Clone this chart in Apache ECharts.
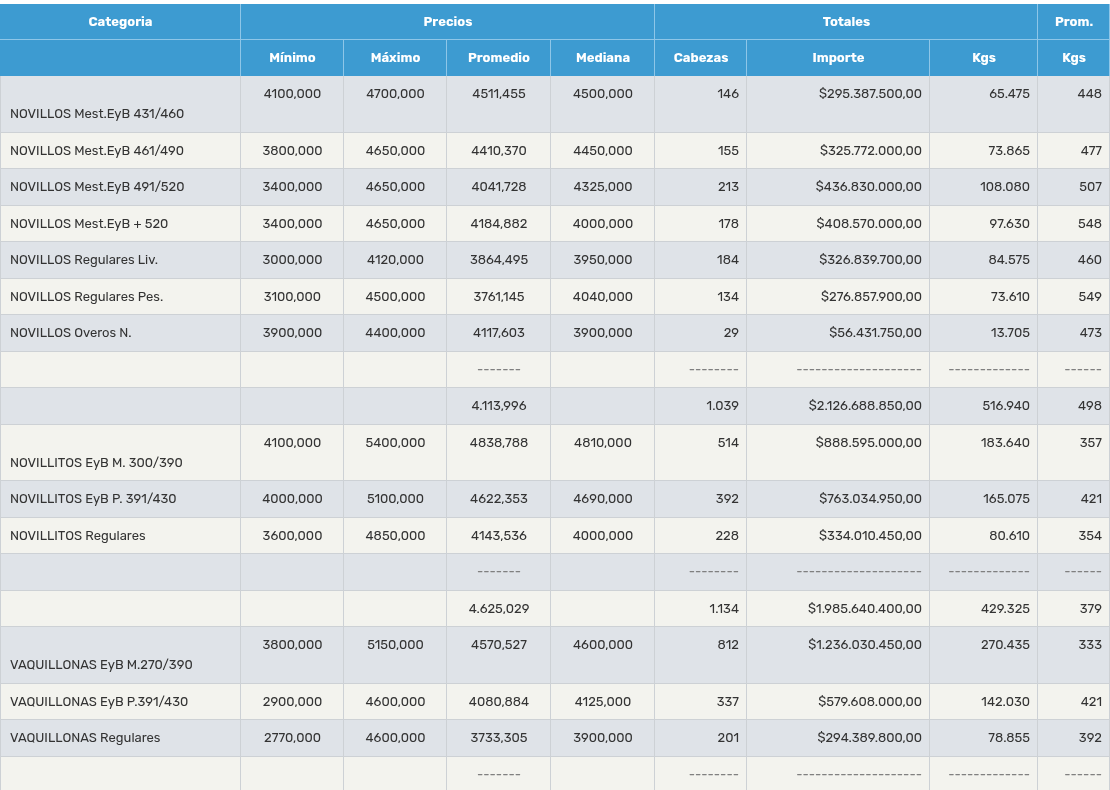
<!DOCTYPE html>
<html><head><meta charset="utf-8">
<script src="https://cdn.jsdelivr.net/npm/echarts@6/dist/echarts.min.js"></script>
<style>html,body{margin:0;padding:0;background:#fff}#c{width:1110px;height:790px}</style>
</head><body><div id="c"></div>
<script>
// ---------- DATA ----------
const headerGroups = ['Categoria', 'Precios', 'Totales', 'Prom.'];
const headerGroupSpan = [[0, 0], [1, 4], [5, 7], [8, 8]];
const headerColumns = ['', 'Mínimo', 'Máximo', 'Promedio', 'Mediana', 'Cabezas', 'Importe', 'Kgs', 'Kgs'];

const categories = [
  'NOVILLOS Mest.EyB 431/460', 'NOVILLOS Mest.EyB 461/490', 'NOVILLOS Mest.EyB 491/520',
  'NOVILLOS Mest.EyB + 520', 'NOVILLOS Regulares Liv.', 'NOVILLOS Regulares Pes.',
  'NOVILLOS Overos N.', '', '',
  'NOVILLITOS EyB M. 300/390', 'NOVILLITOS EyB P. 391/430', 'NOVILLITOS Regulares', '', '',
  'VAQUILLONAS EyB M.270/390', 'VAQUILLONAS EyB P.391/430', 'VAQUILLONAS Regulares', ''
];
const rowKind = ['item','item','item','item','item','item','item','dash','total',
  'item','item','item','dash','total','item','item','item','dash'];

const minimo   = [4100, 3800, 3400, 3400, 3000, 3100, 3900, null, null, 4100, 4000, 3600, null, null, 3800, 2900, 2770, null];
const maximo   = [4700, 4650, 4650, 4650, 4120, 4500, 4400, null, null, 5400, 5100, 4850, null, null, 5150, 4600, 4600, null];
const promedio = [4511.455, 4410.370, 4041.728, 4184.882, 3864.495, 3761.145, 4117.603, null, 4113.996,
  4838.788, 4622.353, 4143.536, null, 4625.029, 4570.527, 4080.884, 3733.305, null];
const mediana  = [4500, 4450, 4325, 4000, 3950, 4040, 3900, null, null, 4810, 4690, 4000, null, null, 4600, 4125, 3900, null];
const cabezas  = [146, 155, 213, 178, 184, 134, 29, null, 1039, 514, 392, 228, null, 1134, 812, 337, 201, null];
const importe  = [295387500, 325772000, 436830000, 408570000, 326839700, 276857900, 56431750, null, 2126688850,
  888595000, 763034950, 334010450, null, 1985640400, 1236030450, 579608000, 294389800, null];
const kgs      = [65475, 73865, 108080, 97630, 84575, 73610, 13705, null, 516940,
  183640, 165075, 80610, null, 429325, 270435, 142030, 78855, null];
const promKgs  = [448, 477, 507, 548, 460, 549, 473, null, 498, 357, 421, 354, null, 379, 333, 421, 392, null];
const dashMarks = ['', '', '', '-------', '', '--------', '--------------------', '-------------', '------'];

// ---------- LAYOUT / STYLE ----------
const layout = {
  colWidths: [241, 103, 103, 104, 104, 92, 183, 108, 72],
  colAlign: ['left', 'center', 'center', 'center', 'center', 'right', 'right', 'right', 'right'],
  padLeft: 10, padRight: 8,
  headerHeights: [36, 36],
  rowHeight: 36.5, tallExtra: 20, tallRows: [0, 9, 14],
  textOffset: 18.25,
  top: 4, width: 1110, height: 790
};
const style = {
  headerBg: '#3d9bd1', headerLine: '#8ec6e8', headerText: '#ffffff',
  rowBg: ['#dfe3e8', '#f3f3ee'], line: '#cdd1d5', text: '#333333', dash: '#808080',
  font: 'Rubik, Inter, "Noto Sans", sans-serif', fontSize: 13
};

// ---------- helpers ----------
const colEdges = [0];
layout.colWidths.forEach(w => colEdges.push(colEdges[colEdges.length - 1] + w));
const hdrEdges = [0, layout.headerHeights[0], layout.headerHeights[0] + layout.headerHeights[1]];
const rowEdges = [hdrEdges[2]];
categories.forEach((_, r) => {
  const h = layout.rowHeight + (layout.tallRows.includes(r) ? layout.tallExtra : 0);
  rowEdges.push(rowEdges[r] + h);
});
const thousands = s => s.replace(/\B(?=(\d{3})+(?!\d))/g, '.');
function fmtPrice(v, total) {
  const p = v.toFixed(3).split('.');
  return (total ? thousands(p[0]) : p[0]) + ',' + p[1];
}
const fmtInt = v => thousands(String(Math.round(v)));
const fmtMoney = v => { const p = v.toFixed(2).split('.'); return '$' + thousands(p[0]) + ',' + p[1]; };
const priceCols = [minimo, maximo, promedio, mediana];
function cellText(r, c) {
  const kind = rowKind[r];
  if (kind === 'dash') return dashMarks[c];
  if (c === 0) return categories[r];
  let v;
  if (c <= 4) { v = priceCols[c - 1][r]; return v == null ? '' : fmtPrice(v, kind === 'total'); }
  if (c === 5) { v = cabezas[r]; return v == null ? '' : fmtInt(v); }
  if (c === 6) { v = importe[r]; return v == null ? '' : fmtMoney(v); }
  if (c === 7) { v = kgs[r]; return v == null ? '' : fmtInt(v); }
  v = promKgs[r]; return v == null ? '' : String(v);
}

const bodyData = [];
categories.forEach((_, r) => { for (let c = 0; c < layout.colWidths.length; c++) bodyData.push([c, r]); });
const headerData = [];
headerGroups.forEach((t, i) => headerData.push([headerGroupSpan[i][0], headerGroupSpan[i][1], 0, i]));
headerColumns.forEach((t, i) => headerData.push([i, i, 1, i]));

function lineEl(p0, p1, color) {
  return { type: 'line', z2: 10, shape: { x1: p0[0], y1: p0[1], x2: p1[0], y2: p1[1] },
    style: { stroke: color, lineWidth: 1 } };
}

function renderBody(params, api) {
  const c = api.value(0), r = api.value(1);
  const a = api.coord([colEdges[c], rowEdges[r]]);
  const b = api.coord([colEdges[c + 1], rowEdges[r + 1]]);
  const x0 = Math.round(a[0]), y0 = Math.round(a[1]), x1 = Math.round(b[0]), y1 = Math.round(b[1]);
  const txt = cellText(r, c);
  const align = layout.colAlign[c];
  const tx = align === 'left' ? x0 + layout.padLeft : align === 'right' ? x1 - layout.padRight : (x0 + x1) / 2;
  const ty = c === 0 ? b[1] - layout.textOffset : a[1] + layout.textOffset;
  const isDash = rowKind[r] === 'dash';
  const children = [
    { type: 'rect', z2: 0, shape: { x: x0, y: y0, width: x1 - x0, height: y1 - y0 },
      style: { fill: style.rowBg[r % 2] } },
    lineEl([x1 - 0.5, y0], [x1 - 0.5, y1], style.line),
    lineEl([x0, y1 - 0.5], [x1, y1 - 0.5], style.line)
  ];
  if (c === 0) children.push(lineEl([x0 + 0.5, y0], [x0 + 0.5, y1], style.line));
  if (txt) children.push({ type: 'text', z2: 20, style: {
    text: txt, x: tx, y: ty, align: align, verticalAlign: 'middle',
    fill: isDash ? style.dash : style.text, fontSize: style.fontSize, fontFamily: style.font } });
  return { type: 'group', children };
}

function renderHeader(params, api) {
  const c0 = api.value(0), c1 = api.value(1), lvl = api.value(2), idx = api.value(3);
  const a = api.coord([colEdges[c0], hdrEdges[lvl]]);
  const b = api.coord([colEdges[c1 + 1], hdrEdges[lvl + 1]]);
  const x0 = Math.round(a[0]), y0 = Math.round(a[1]), x1 = Math.round(b[0]), y1 = Math.round(b[1]);
  const txt = lvl === 0 ? headerGroups[idx] : headerColumns[idx];
  const children = [
    { type: 'rect', z2: 0, shape: { x: x0, y: y0, width: x1 - x0, height: y1 - y0 },
      style: { fill: style.headerBg } },
    lineEl([x1 - 0.5, y0], [x1 - 0.5, y1], style.headerLine)
  ];
  if (lvl === 0) children.push(lineEl([x0, y1 - 0.5], [x1, y1 - 0.5], style.headerLine));
  if (txt) children.push({ type: 'text', z2: 20, style: {
    text: txt, x: (x0 + x1) / 2, y: (y0 + y1) / 2, align: 'center', verticalAlign: 'middle',
    fill: style.headerText, fontSize: style.fontSize, fontWeight: 'bold', fontFamily: style.font } });
  return { type: 'group', children };
}

const chart = echarts.init(document.getElementById('c'));
chart.setOption({
  animation: false,
  grid: { left: 0, right: 0, top: layout.top, bottom: 0 },
  xAxis: { type: 'value', min: 0, max: layout.width, show: false },
  yAxis: { type: 'value', min: 0, max: layout.height - layout.top, inverse: true, show: false },
  series: [
    { type: 'custom', renderItem: renderBody, data: bodyData, clip: true, silent: true,
      encode: { x: 0, y: 1 } },
    { type: 'custom', renderItem: renderHeader, data: headerData, clip: true, silent: true,
      encode: { x: 0, y: 2 } }
  ]
});
</script></body></html>
